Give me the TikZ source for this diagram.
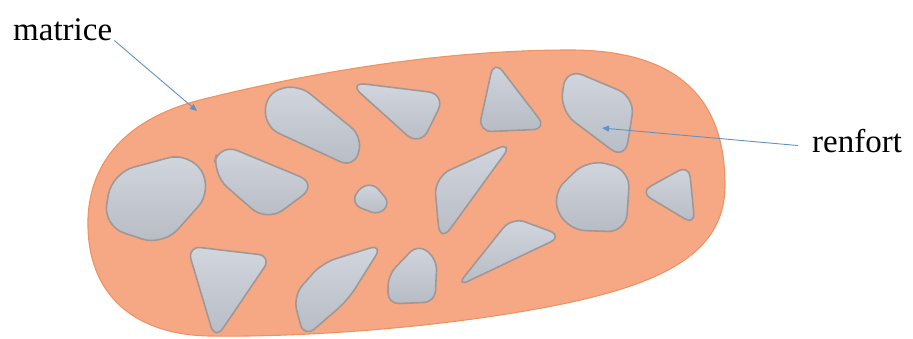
\documentclass[tikz,border=0pt]{standalone}
\usepackage{fontspec}
\setmainfont{Liberation Serif}
\newfontfamily\etiquettefont{Liberation Serif}
\usepackage{tikz}
\usetikzlibrary{arrows.meta}
\definecolor{matrice-fill}{RGB}{246,168,132}
\definecolor{matrice-line}{RGB}{238,146,98}
\definecolor{grain-top}{RGB}{210,214,222}
\definecolor{grain-bottom}{RGB}{182,187,196}
\definecolor{grain-line}{RGB}{160,152,150}
\definecolor{fleche-bleu}{RGB}{96,146,196}
\tikzset{
  compo-matrice/.style={draw=matrice-line, fill=matrice-fill, line width=1.1pt},
  compo-grain/.style={draw=grain-line, top color=grain-top, bottom color=grain-bottom,
    line width=1.6pt, rounded corners=9pt},
  compo-label/.style={font=\etiquettefont\fontsize{33}{38}\selectfont, inner sep=0pt, text=black},
  compo-arrow/.style={draw=fleche-bleu, line width=0.9pt, -{Triangle[width=6pt,length=7pt]}}
}
\begin{document}
\begin{tikzpicture}[x=1pt, y=-1pt]
  \useasboundingbox (0,0) rectangle (913,338);
  % matrice
  \draw[compo-matrice] (88,228) .. controls (86,160) and (130,118) .. (200,100)
    .. controls (320,70) and (450,50) .. (570,50)
    .. controls (690,50) and (725,110) .. (725,185)
    .. controls (725,265) and (640,295) .. (480,318)
    .. controls (380,332) and (280,337) .. (210,336)
    .. controls (140,335) and (90,300) .. (88,228) -- cycle;
  % renforts
  \draw[compo-grain, rounded corners=22pt] (112,173) -- (190,152) -- (213,190) -- (163,246) -- (103,226) -- cycle;
  \draw[compo-grain, rounded corners=20pt] (219,143) -- (318,184) -- (267,222) -- (212,174) -- cycle;
  \draw[compo-grain, rounded corners=15pt] (266,93) -- (298,84) -- (363,137) -- (354,168) -- (265,127) -- cycle;
  \draw[compo-grain, rounded corners=18pt] (348,82) -- (446,94) -- (420,147) -- cycle;
  \draw[compo-grain, rounded corners=8pt] (357,189) -- (373,183) -- (390,203) -- (379,215) -- (353,205) -- cycle;
  \draw[compo-grain, rounded corners=18pt] (514,141) -- (434,177) -- (440,243) -- cycle;
  \draw[compo-grain, rounded corners=14pt] (494,60) -- (547,129) -- (478,132) -- cycle;
  \draw[compo-grain, rounded corners=18pt] (566,68) -- (635,97) -- (625,160) -- (560,111) -- cycle;
  \draw[compo-grain, rounded corners=18pt] (588,159) -- (630,170) -- (626,232) -- (567,230) -- (551,195) -- cycle;
  \draw[compo-grain, rounded corners=12pt] (689,165) -- (640,192) -- (695,225) -- cycle;
  \draw[compo-grain, rounded corners=14pt] (456,287) -- (512,217) -- (563,236) -- cycle;
  \draw[compo-grain, rounded corners=14pt] (187,246) -- (272,256) -- (215,340) -- cycle;
  \draw[compo-grain, rounded corners=14pt] (383,244) -- (322,263) -- (293,296) -- (304,338) -- (348,300) -- cycle;
  \draw[compo-grain, rounded corners=11pt] (418,244) -- (437,259) -- (435,302) -- (388,304) -- (388,275) -- cycle;
  % etiquettes
  \node[compo-label, anchor=base west] (matrice) at (13,40) {matrice};
  \node[compo-label, anchor=base west] (renfort) at (812,152) {renfort};
  \coordinate (matrice-pointe) at (197,111);
  \coordinate (renfort-pointe) at (602,128);
  \draw[compo-arrow] ([xshift=2pt]matrice.south east) -- (matrice-pointe);
  \draw[compo-arrow] ([xshift=-14pt,yshift=-5pt]renfort.west) -- (renfort-pointe);
\end{tikzpicture}
\end{document}
